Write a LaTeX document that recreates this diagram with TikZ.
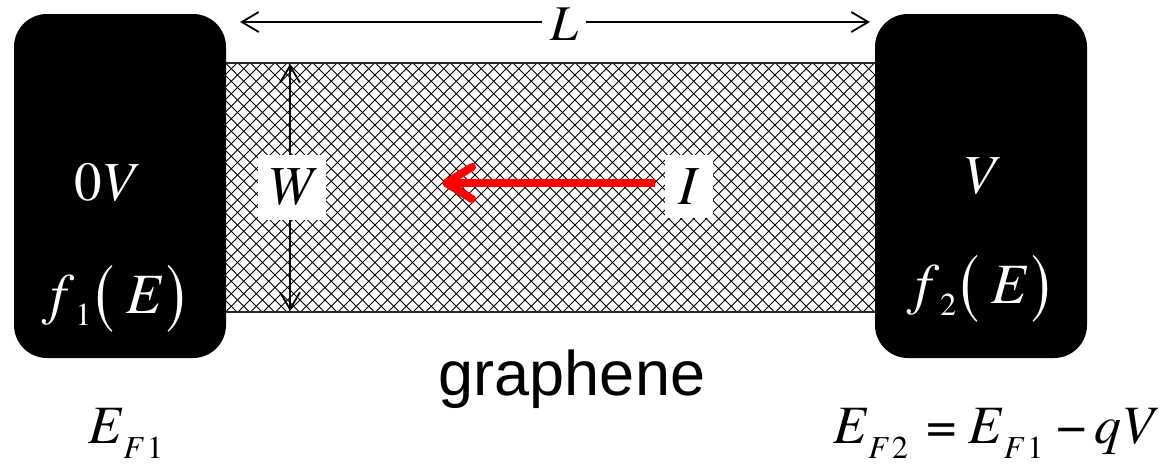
\documentclass[tikz,border=0pt]{standalone}
\usepackage{fontspec}
\setmainfont{texgyretermes}[Extension=.otf,UprightFont=*-regular,ItalicFont=*-italic,BoldFont=*-bold,BoldItalicFont=*-bolditalic]
\newfontfamily\arialfont{Liberation Sans}
\usetikzlibrary{arrows.meta}
\newcommand{\fsz}[1]{\fontsize{#1}{#1}\selectfont}
\newcommand{\lowsub}[3]{\raisebox{-#1pt}{\fsz{#2}#3}}
\newcommand{\tallpar}[1]{\raisebox{-5pt}{\scalebox{1}[1.38]{#1}}}
\newcommand{\fofE}[1]{\textit{f}\hspace{1pt}\lowsub{12}{32}{#1}\hspace{4pt}\tallpar{(}\hspace{12pt}\textit{E}\hspace{4pt}\tallpar{)}}
\newcommand{\EF}[1]{\textit{E}\hspace{1pt}\lowsub{15}{32}{\textit{F}\hspace{3pt}#1}}
\begin{document}
\begin{tikzpicture}[x=1pt,y=-1pt,
  contact/.style={fill=black,rounded corners=33pt,minimum width=212pt,minimum height=344pt,inner sep=0pt,draw=none},
  hatch/.style={line width=0.9pt,black},
  edgeline/.style={line width=2pt,black!85},
  dimarrow/.style={line width=1.8pt,{Straight Barb[length=17pt,width=20pt]}-{Straight Barb[length=17pt,width=20pt]}},
  curarrow/.style={line width=8pt,red,-{Straight Barb[length=26pt,width=32pt,round]}},
  wlabel/.style={text=white,inner sep=0pt,font=\fsz{55}},
  blabel/.style={fill=white,inner sep=0pt,font=\fsz{55},text=black},
  eqlabel/.style={inner sep=0pt,font=\fsz{54},anchor=base west}
]
\useasboundingbox (0,0) rectangle (1174,463);
% graphene strip hatch
\coordinate (stripNW) at (226,63);
\coordinate (stripNE) at (875,63);
\coordinate (stripSW) at (226,312);
\coordinate (stripSE) at (875,312);
\begin{scope}
\clip (stripNW) rectangle (stripSE);
\foreach \k in {-262,-249.5,...,900} {
  \draw[hatch] (\k,63) -- ++(250,250);
  \draw[hatch] (\k,312) -- ++(250,-250);
}
\end{scope}
\draw[edgeline] (stripNW) -- (stripNE);
\draw[edgeline] (stripSW) -- (stripSE);
% contacts
\node[contact] (left) at (120,186) {};
\node[contact] (right) at (981,186) {};
% contact labels
\node[wlabel,anchor=base] (zv) at (107,200) {0\textit{V}};
\node[wlabel,anchor=base] (vv) at (981,193) {\textit{V}};
\node[wlabel,anchor=base west,font=\fsz{57}] (f1) at (50,313) {\fofE{1}};
\node[wlabel,anchor=base west,font=\fsz{57}] (f2) at (915,303) {\fofE{2}};
% L dimension
\coordinate (Lleft) at (240,22);
\coordinate (Lright) at (870,22);
\draw[dimarrow] (Lleft) -- (Lright);
\node[fill=white,inner xsep=8pt,inner ysep=0pt,minimum height=30pt,font=\fsz{50}] (L) at (564,24) {\textit{L}};
% W dimension
\coordinate (Wtop) at (290,64);
\coordinate (Wbot) at (290,311);
\draw[dimarrow] (Wtop) -- (Wbot);
\node[blabel,minimum width=68pt,minimum height=65pt] (W) at (292,187.5) {\textit{W}};
% current
\node[blabel,minimum width=48pt,minimum height=63pt] (I) at (689,186.5) {\textit{I}};
\coordinate (Istart) at (655,183);
\coordinate (Iend) at (442,183);
\draw[curarrow] (Istart) -- (Iend);
% graphene
\node[inner sep=0pt,anchor=base,font=\arialfont\fsz{63}] (gr) at (572,395) {graphene};
% Fermi levels
\node[eqlabel] (ef1) at (88,443) {\EF{1}};
\node[eqlabel] (ef2) at (833,443) {\EF{2}\hspace{18pt}=\hspace{12pt}\EF{1}\hspace{13pt}−\hspace{8pt}\textit{qV}};
\end{tikzpicture}
\end{document}
